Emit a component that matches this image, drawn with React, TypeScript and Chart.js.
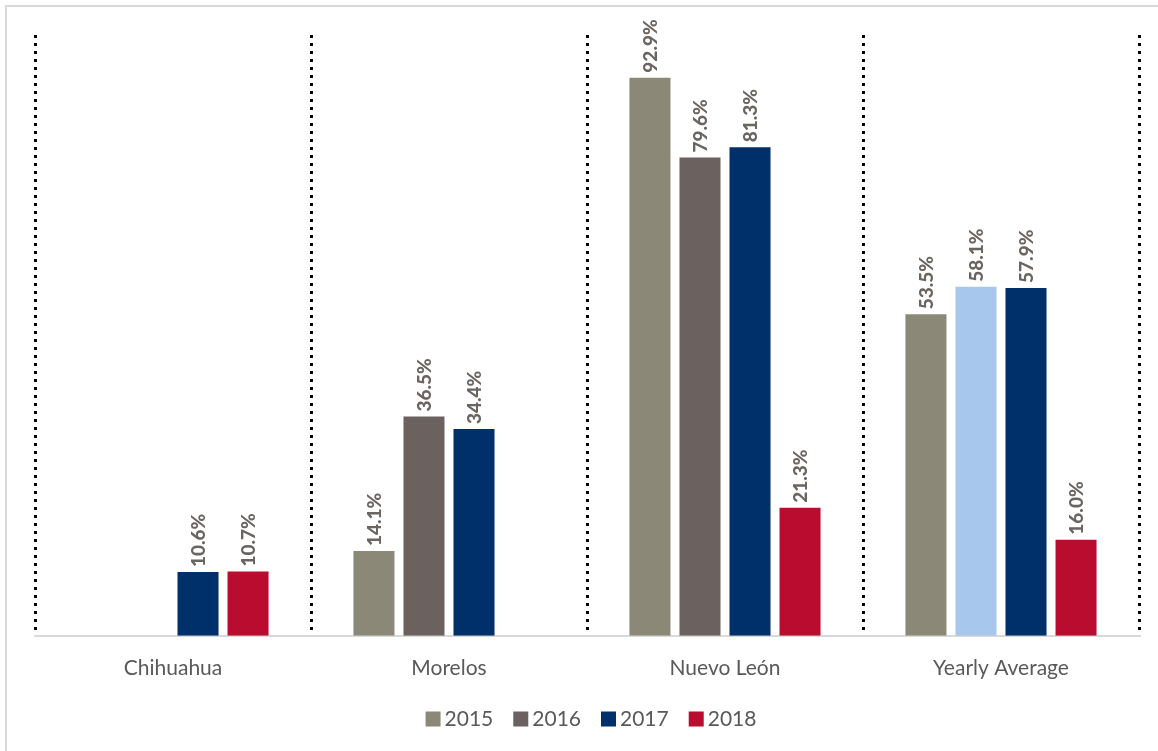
import React, { useEffect, useRef } from "react";
import { Chart, registerables } from "chart.js";

Chart.register(...registerables);

const categories = ["Chihuahua", "Morelos", "Nuevo León", "Yearly Average"];
const seriesNames = ["2015", "2016", "2017", "2018"];
const values2015: (number | null)[] = [null, 14.1, 92.9, 53.5];
const values2016: (number | null)[] = [null, 36.5, 79.6, 58.1];
const values2017: (number | null)[] = [10.6, 34.4, 81.3, 57.9];
const values2018: (number | null)[] = [10.7, null, 21.3, 16.0];
const seriesColors = ["#8b8878", "#6b6260", "#00306a", "#ba0c2f"];
const highlightColor = "#a7c7ec";

const FONT = "Lato, 'Open Sans', sans-serif";

const framePlugin = {
  id: "frame",
  beforeDraw(chart: any) {
    const { ctx, width, height } = chart;
    ctx.save();
    ctx.fillStyle = "#ffffff";
    ctx.fillRect(0, 0, width, height);
    ctx.strokeStyle = "#d9d9d9";
    ctx.lineWidth = 2;
    ctx.beginPath();
    ctx.moveTo(6, height);
    ctx.lineTo(6, 6);
    ctx.lineTo(width, 6);
    ctx.stroke();
    ctx.restore();
  },
};

const valueLabelPlugin = {
  id: "valueLabels",
  afterDatasetsDraw(chart: any) {
    const { ctx } = chart;
    ctx.save();
    ctx.font = `900 19px ${FONT}`;
    ctx.fillStyle = "#6b6562";
    ctx.textAlign = "left";
    ctx.textBaseline = "middle";
    chart.data.datasets.forEach((ds: any, di: number) => {
      const meta = chart.getDatasetMeta(di);
      meta.data.forEach((bar: any, i: number) => {
        const v = ds.data[i];
        if (v === null || v === undefined) return;
        ctx.save();
        ctx.translate(bar.x, bar.y - 5);
        ctx.rotate(-Math.PI / 2);
        ctx.fillText(v.toFixed(1) + "%", 0, 1);
        ctx.restore();
      });
    });
    ctx.restore();
  },
};

const legendPlugin = {
  id: "customLegend",
  afterDraw(chart: any) {
    const { ctx, chartArea } = chart;
    ctx.save();
    ctx.font = `21px ${FONT}`;
    ctx.textBaseline = "middle";
    ctx.textAlign = "left";
    const box = 15;
    const gapBoxText = 4;
    const gapItems = 20;
    const widths = seriesNames.map((n) => box + gapBoxText + ctx.measureText(n).width);
    const total = widths.reduce((a, b) => a + b, 0) + gapItems * (seriesNames.length - 1);
    let x = (chartArea.left + chartArea.right) / 2 + 4 - total / 2;
    const cy = 719;
    seriesNames.forEach((n, i) => {
      ctx.fillStyle = seriesColors[i];
      ctx.fillRect(x, cy - box / 2, box, box);
      ctx.fillStyle = "#595959";
      ctx.fillText(n, x + box + gapBoxText, cy);
      x += widths[i] + gapItems;
    });
    ctx.restore();
  },
};

export default function App() {
  const ref = useRef<HTMLCanvasElement>(null);
  useEffect(() => {
    document.body.style.margin = "0";
    const c = ref.current;
    if (!c) return;
    const chart = new Chart(c, {
      type: "bar",
      data: {
        labels: categories,
        datasets: [
          { label: seriesNames[0], data: values2015, backgroundColor: seriesColors[0] },
          {
            label: seriesNames[1],
            data: values2016,
            backgroundColor: values2016.map((_, i) => (i === 3 ? highlightColor : seriesColors[1])),
          },
          { label: seriesNames[2], data: values2017, backgroundColor: seriesColors[2] },
          { label: seriesNames[3], data: values2018, backgroundColor: seriesColors[3] },
        ],
      },
      options: {
        responsive: false,
        animation: false,
        devicePixelRatio: 1,
        layout: { padding: { left: 35, right: 19, top: 35, bottom: 50 } },
        datasets: {
          bar: { categoryPercentage: 0.725, barPercentage: 0.82 },
        },
        plugins: {
          legend: { display: false },
          tooltip: { enabled: false },
        },
        scales: {
          x: {
            grid: {
              display: true,
              offset: true,
              color: "#000000",
              lineWidth: 3,
              drawTicks: false,
            },
            border: {
              display: true,
              color: "#d9d9d9",
              width: 2,
              dash: [3, 5],
            },
            ticks: {
              color: "#595959",
              font: { family: FONT, size: 21 },
              padding: 20,
            },
          },
          y: {
            display: false,
            min: 0,
            max: 100,
          },
        },
      },
      plugins: [framePlugin, valueLabelPlugin, legendPlugin],
    } as any);
    return () => chart.destroy();
  }, []);
  return (
    <div style={{ position: "absolute", left: 0, top: 0, width: 1158, height: 751 }}>
      <canvas ref={ref} width={1158} height={751} />
    </div>
  );
}
